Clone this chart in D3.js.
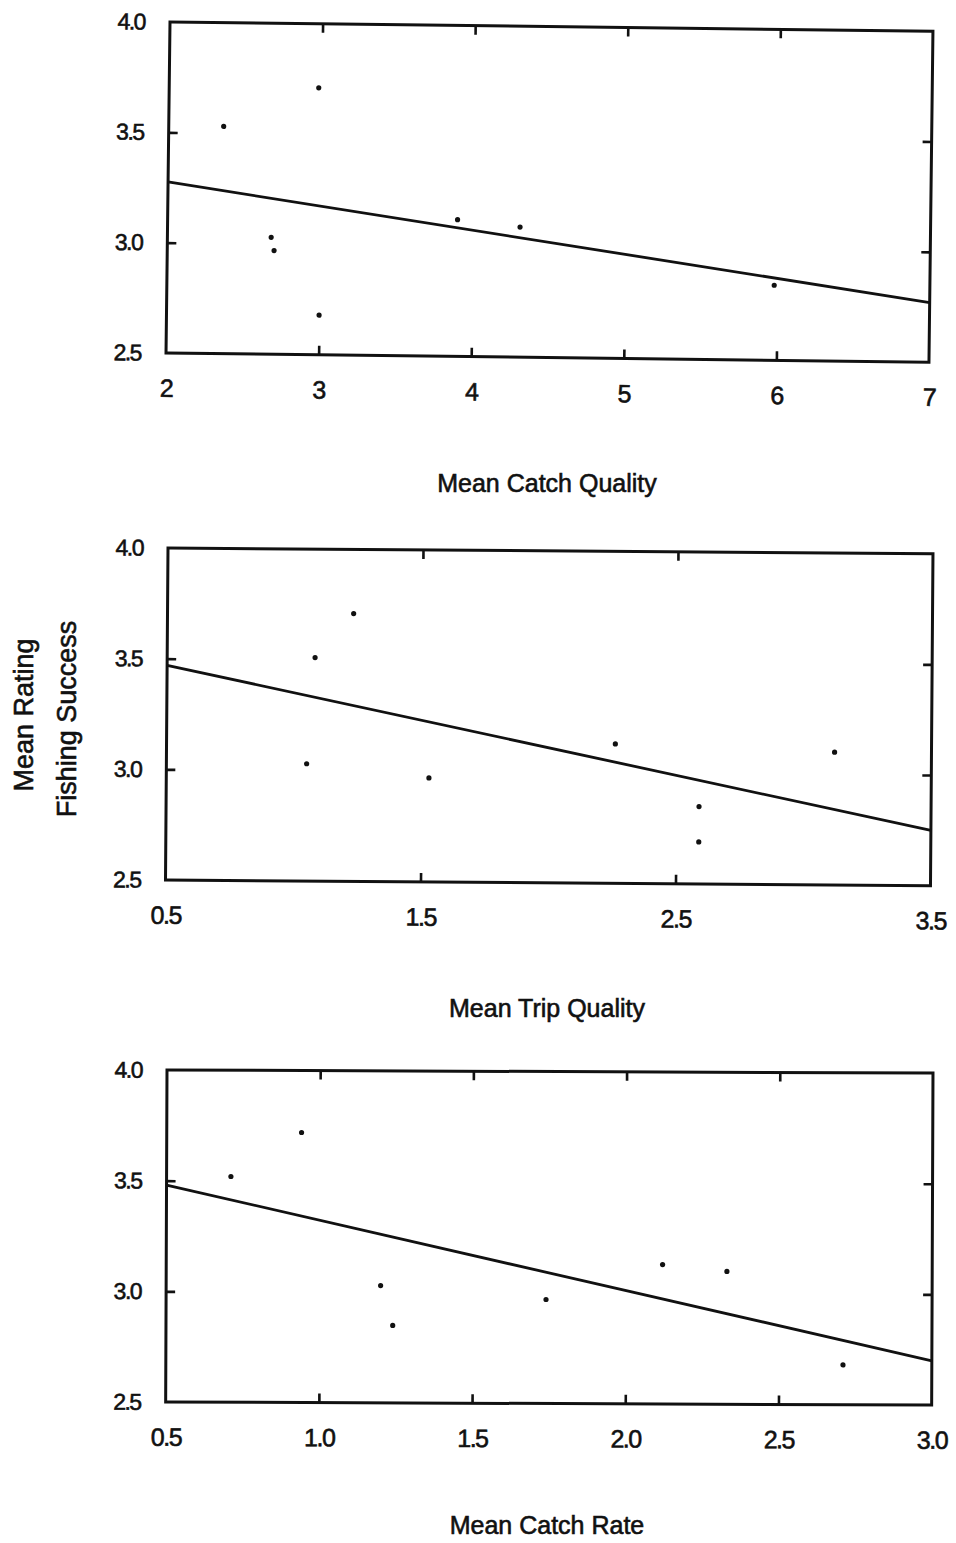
<!DOCTYPE html>
<html lang="en">
<head>
  <meta charset="UTF-8">
  <title>Mean Rating Fishing Success</title>
  <style>
    * { box-sizing: border-box; }
    body { margin: 0; background: #fff; }
    #main { width: 956px; height: 1543px; }
    text { font-family: "Liberation Sans", Arial, sans-serif; fill: #111; stroke: #111; stroke-width: 0.6px; }
  </style>
</head>
<body>
  <div id="main"></div>
  <script src="https://d3js.org/d3.v7.min.js"></script>
  <script>
    // data
    const ratingTicks = [2.5, 3.0, 3.5, 4.0]

    // panel 1: mean catch quality
    const qualityX = [2.36, 2.98, 2.68, 2.70, 3.00, 3.90, 4.31, 5.98]
    const qualityY = [3.53, 3.71, 3.03, 2.97, 2.68, 3.12, 3.09, 2.84]
    const qualityFit = [[2, 3.275], [7, 2.77]]
    const qualityTicks = [2, 3, 4, 5, 6, 7]

    // panel 2: mean trip quality
    const tripX = [1.08, 1.23, 1.05, 1.53, 2.26, 3.12, 2.59, 2.59]
    const tripY = [3.51, 3.71, 3.03, 2.97, 3.13, 3.10, 2.85, 2.69]
    const tripFit = [[0.5, 3.47], [3.5, 2.75]]
    const tripTicks = [0.5, 1.5, 2.5, 3.5]

    // panel 3: mean catch rate
    const rateX = [0.71, 0.94, 1.20, 1.24, 1.74, 2.12, 2.33, 2.71]
    const rateY = [3.52, 3.72, 3.03, 2.85, 2.97, 3.13, 3.10, 2.68]
    const rateFit = [[0.5, 3.48], [3.0, 2.70]]
    const rateTicks = [0.5, 1.0, 1.5, 2.0, 2.5, 3.0]

    const [width, height] = [956, 1543]
    const svg = d3.select('#main').append('svg')
      .attr('width', width)
      .attr('height', height)
      .attr('viewBox', `0 0 ${width} ${height}`)

    // the scan is slightly rotated, so each panel gets a small tilt
    const panels = [
      { xs: qualityX, ys: qualityY, fit: qualityFit, ticks: qualityTicks, fmt: d3.format('d'),
        left: 170, top: 22, w: 763, h: 331, tilt: 0.69, title: 'Mean Catch Quality', titleY: 492 },
      { xs: tripX, ys: tripY, fit: tripFit, ticks: tripTicks, fmt: d3.format('.1f'),
        left: 168, top: 548, w: 765, h: 332, tilt: 0.43, title: 'Mean Trip Quality', titleY: 1017 },
      { xs: rateX, ys: rateY, fit: rateFit, ticks: rateTicks, fmt: d3.format('.1f'),
        left: 167, top: 1070, w: 766, h: 332, tilt: 0.23, title: 'Mean Catch Rate', titleY: 1534 }
    ]

    const tickLen = 9

    panels.forEach(p => {
      const x = d3.scaleLinear().domain(d3.extent(p.ticks)).range([0, p.w])
      const y = d3.scaleLinear().domain(d3.extent(ratingTicks)).range([p.h, 0])
      const innerX = p.ticks.slice(1, -1)
      const innerY = ratingTicks.slice(1, -1)

      const g = svg.append('g')
        .attr('transform', `translate(${p.left},${p.top}) rotate(${p.tilt})`)

      // inward tick marks on all four sides
      const marks = [
        [d3.axisBottom(x).tickValues(innerX).tickSize(-tickLen), `translate(0,${p.h})`],
        [d3.axisTop(x).tickValues(innerX).tickSize(-tickLen), 'translate(0,0)'],
        [d3.axisLeft(y).tickValues(innerY).tickSize(-tickLen), 'translate(0,0)'],
        [d3.axisRight(y).tickValues(innerY).tickSize(-tickLen), `translate(${p.w},0)`]
      ]
      marks.forEach(([axis, tr]) => {
        const a = g.append('g').attr('transform', tr).call(axis.tickFormat(''))
        a.select('.domain').remove()
        a.selectAll('line').attr('stroke', '#111').attr('stroke-width', 2.6)
      })

      // tick labels
      const xl = g.append('g').attr('transform', `translate(0,${p.h})`)
        .call(d3.axisBottom(x).tickValues(p.ticks).tickSize(0).tickPadding(26).tickFormat(p.fmt))
      xl.select('.domain').remove()
      xl.selectAll('text').style('font-size', '25px').attr('letter-spacing', '-1.5px')
        .attr('fill', null)

      const yl = g.append('g')
        .call(d3.axisLeft(y).tickValues(ratingTicks).tickSize(0).tickPadding(25).tickFormat(d3.format('.1f')))
      yl.select('.domain').remove()
      yl.selectAll('text').style('font-size', '23px').attr('letter-spacing', '-1.5px')
        .attr('fill', null)

      // frame
      g.append('rect')
        .attr('width', p.w).attr('height', p.h)
        .attr('fill', 'none').attr('stroke', '#111').attr('stroke-width', 3)

      // fitted line
      g.append('path')
        .datum(p.fit)
        .attr('d', d3.line().x(d => x(d[0])).y(d => y(d[1])))
        .attr('fill', 'none').attr('stroke', '#111').attr('stroke-width', 2.8)

      // points
      g.selectAll('circle.pt')
        .data(p.xs.map((v, i) => [v, p.ys[i]]))
        .join('circle')
        .attr('class', 'pt')
        .attr('cx', d => x(d[0]))
        .attr('cy', d => y(d[1]))
        .attr('r', 2.6)
        .attr('fill', '#111')

      // x title
      svg.append('text')
        .attr('x', 547).attr('y', p.titleY)
        .attr('text-anchor', 'middle')
        .style('font-size', '25px')
        .text(p.title)
    })

    // shared y title
    svg.append('text')
      .attr('transform', 'translate(33,715) rotate(-90)')
      .attr('text-anchor', 'middle')
      .style('font-size', '27px')
      .text('Mean Rating')
    svg.append('text')
      .attr('transform', 'translate(76,719) rotate(-90)')
      .attr('text-anchor', 'middle')
      .style('font-size', '27px')
      .text('Fishing Success')
  </script>
</body>
</html>
